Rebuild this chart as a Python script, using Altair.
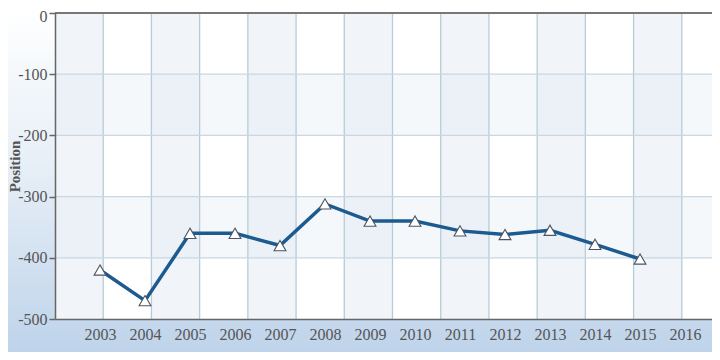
import altair as alt
import pandas as pd

# ---- data ----
years = [2003, 2004, 2005, 2006, 2007, 2008, 2009, 2010, 2011, 2012, 2013, 2014, 2015]
positions = [-420, -470, -360, -360, -380, -312, -340, -340, -356, -362, -355, -378, -402]
axis_years = list(range(2003, 2017))
y_ticks = [0, -100, -200, -300, -400, -500]

# ---- layout constants ----
W, H = 657, 306
X0 = 2002
XMAX = X0 + W / 45.0          # one category step = 45 px
NCOL = 14
COLW = 15.0 / NCOL            # 14 equal background columns over 15 category steps

FONT = "Liberation Serif"
LABEL_COLOR = "#555555"
GRID_COLOR = "#b9cbd8"

xscale = alt.Scale(domain=[X0, XMAX], nice=False, zero=False)
yscale = alt.Scale(domain=[-500, 0], nice=False, zero=False)

xaxis = alt.Axis(values=axis_years, format="d", title=None, grid=False,
                 ticks=False, labelPadding=7, labelFont=FONT, labelFontSize=16,
                 labelColor=LABEL_COLOR, domainColor="#666666", domainWidth=1.5,
                 labelFlush=False, labelOverlap=False, zindex=1)
yaxis = alt.Axis(values=y_ticks, title="Position", grid=False,
                 labelExpr="'' + datum.value",
                 labelOffset=alt.expr("datum.value == 0 ? 3 : 0"),
                 tickSize=6, tickColor="#666666", tickWidth=1.5, labelPadding=2,
                 labelFont=FONT, labelFontSize=16, labelColor=LABEL_COLOR,
                 domainColor="#666666", domainWidth=1.5,
                 titleFont=FONT, titleFontSize=15, titleFontWeight="bold",
                 titleColor=LABEL_COLOR, titleAngle=-90, titleX=-36, titleY=153,
                 titleAlign="center", titleBaseline="alphabetic",
                 labelFlush=False, zindex=1)

df = pd.DataFrame({"year": years, "pos": positions})
one = pd.DataFrame({"a": [0]})

bg = alt.Chart(one).mark_rect(
    fill=alt.LinearGradient(
        gradient="linear",
        stops=[alt.GradientStop(color="#ffffff", offset=0),
               alt.GradientStop(color="#e4edf6", offset=0.5),
               alt.GradientStop(color="#bed3ea", offset=1)],
        x1=0, x2=0, y1=0, y2=1,
    )
).encode(x=alt.value(-47), x2=alt.value(W), y=alt.value(-5), y2=alt.value(H + 34))

plot_bg = alt.Chart(one).mark_rect(fill="#ffffff").encode(
    x=alt.value(0), x2=alt.value(W), y=alt.value(0), y2=alt.value(H)
)

cols = pd.DataFrame({
    "x0": [X0 + k * COLW for k in range(0, NCOL, 2)],
    "x1": [X0 + (k + 1) * COLW for k in range(0, NCOL, 2)],
})
col_bands = alt.Chart(cols).mark_rect(fill="#e3ecf3", opacity=0.5).encode(
    x=alt.X("x0:Q", scale=xscale, axis=xaxis),
    x2="x1:Q",
    y=alt.value(0), y2=alt.value(H),
)

rows = pd.DataFrame({"y0": [-100, -300], "y1": [-200, -400]})
row_bands = alt.Chart(rows).mark_rect(fill="#e3ecf3", opacity=0.35).encode(
    y=alt.Y("y0:Q", scale=yscale, axis=yaxis),
    y2="y1:Q",
    x=alt.value(0), x2=alt.value(W),
)

vgrid = alt.Chart(pd.DataFrame({"gx": [X0 + k * COLW for k in range(1, NCOL)]})).mark_rule(
    color=GRID_COLOR, strokeWidth=1.3
).encode(x=alt.X("gx:Q", scale=xscale, axis=xaxis))

hgrid = alt.Chart(pd.DataFrame({"gy": [-100, -200, -300, -400]})).mark_rule(
    color="#c8d7e2", strokeWidth=1.2
).encode(y=alt.Y("gy:Q", scale=yscale, axis=yaxis))

top_border = alt.Chart(one).mark_rule(color="#777777", strokeWidth=2).encode(
    x=alt.value(0), x2=alt.value(W), y=alt.value(0)
)

base = alt.Chart(df).encode(
    x=alt.X("year:Q", scale=xscale, axis=xaxis),
    y=alt.Y("pos:Q", scale=yscale, axis=yaxis),
)

line = base.mark_line(color="#1c5a8f", strokeWidth=3.5)
points = base.mark_point(shape="triangle-up", filled=True, fill="#ffffff",
                         stroke="#4a5663", strokeWidth=1.1, size=140, opacity=1)

chart = alt.layer(
    bg, plot_bg, col_bands, row_bands, vgrid, hgrid, top_border, line, points
).properties(
    width=W, height=H,
    padding={"left": 47, "top": 5, "right": 0, "bottom": 33},
    autosize=alt.AutoSizeParams(type="none"),
).configure_view(stroke=None)

chart.save("out.html", embed_options={"renderer": "svg", "actions": False})
